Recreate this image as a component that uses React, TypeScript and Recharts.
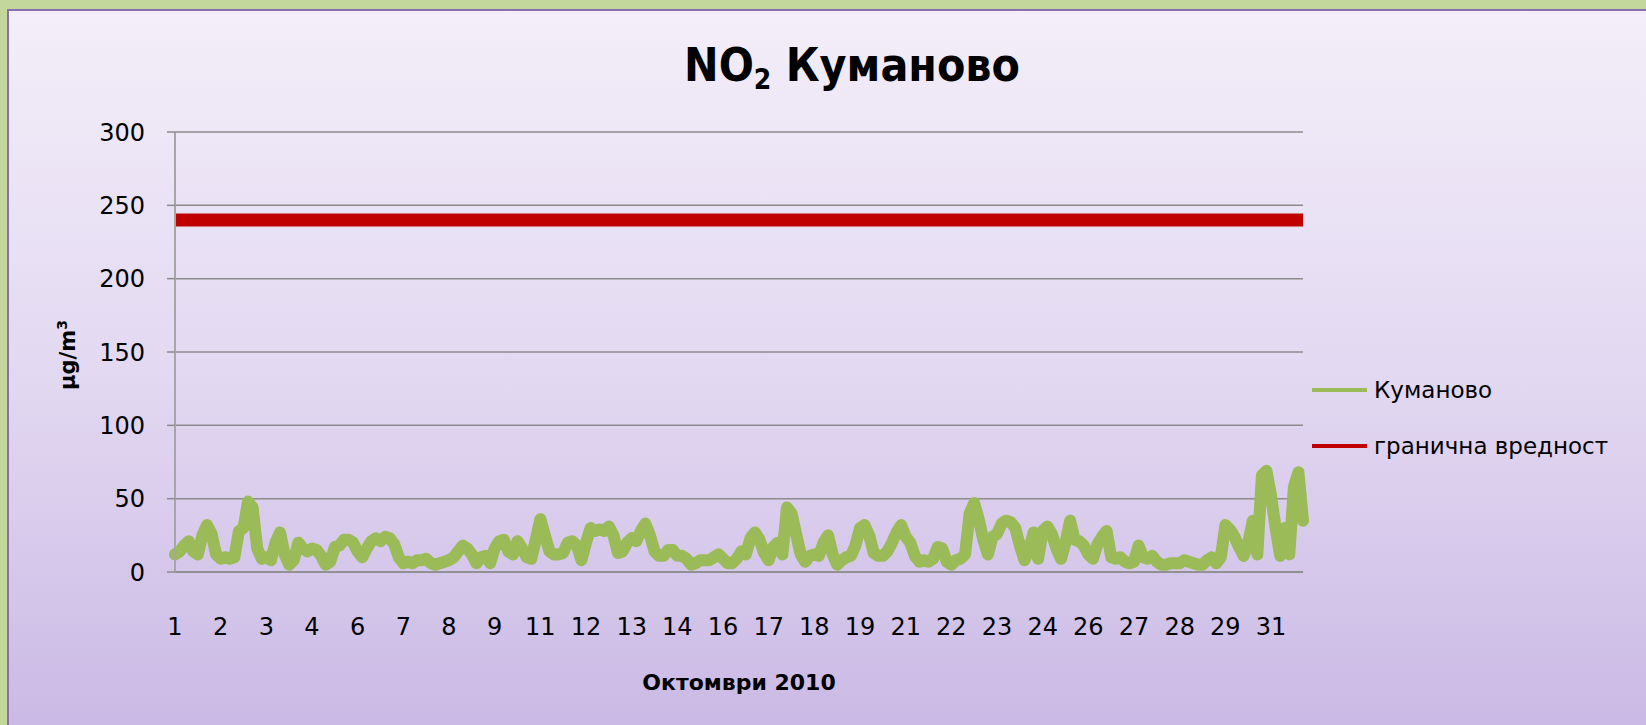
import React from 'react';
import { LineChart, Line, XAxis, YAxis, CartesianGrid, ReferenceLine, Legend } from 'recharts';

// NO2, Kumanovo, October 2010, every 3 hours
const kumanovo = [
  12, 14, 18, 21, 14, 12, 25, 32, 26, 12,
  9, 10, 9, 10, 28, 30, 48, 44, 16, 9,
  10, 8, 20, 27, 12, 5, 8, 20, 16, 14,
  16, 15, 11, 5, 7, 17, 18, 22, 22, 20,
  14, 10, 16, 21, 23, 21, 24, 23, 19, 10,
  6, 7, 6, 8, 8, 9, 6, 5, 6, 7,
  8, 10, 14, 18, 16, 12, 6, 10, 11, 6,
  16, 21, 22, 14, 12, 21, 16, 10, 9, 22,
  36, 25, 14, 12, 12, 13, 20, 21, 18, 8,
  20, 30, 28, 29, 28, 31, 25, 13, 14, 20,
  23, 21, 28, 33, 25, 14, 11, 11, 15, 15,
  11, 11, 9, 5, 6, 8, 8, 8, 10, 12,
  9, 6, 6, 9, 14, 12, 23, 27, 22, 13,
  8, 17, 20, 12, 44, 40, 26, 12, 7, 11,
  12, 11, 20, 25, 12, 5, 8, 10, 11, 18,
  30, 32, 25, 13, 11, 11, 14, 20, 27, 32,
  24, 20, 11, 7, 8, 7, 9, 17, 16, 7,
  5, 8, 9, 12, 40, 47, 36, 22, 12, 24,
  26, 33, 35, 34, 30, 18, 8, 15, 27, 9,
  28, 31, 26, 16, 9, 20, 35, 22, 21, 18,
  12, 9, 19, 24, 28, 10, 9, 10, 7, 6,
  7, 18, 10, 9, 11, 7, 5, 5, 6, 6,
  6, 8, 7, 6, 5, 5, 8, 10, 6, 10,
  32, 29, 24, 17, 11, 20, 35, 12, 66, 69,
  52, 30, 11, 30, 12, 58, 68, 35,
];

const LIMIT = 240;

const dayLabels = [
  '1', '2', '3', '4', '6', '7', '8', '9', '11', '12', '13', '14', '16',
  '17', '18', '19', '21', '22', '23', '24', '26', '27', '28', '29', '31',
];
const yTicks = [0, 50, 100, 150, 200, 250, 300];

const GREEN = '#9bbb59';
const RED = '#c00000';
const FONT = '"DejaVu Sans", sans-serif';

const data = kumanovo.map((v, i) => ({ i, v }));
const xTicks = dayLabels.map((_, k) => k * 10);

const legendItems = [
  { name: 'Куманово', color: GREEN },
  { name: 'гранична вредност', color: RED },
];

const renderLegend = () => (
  <div style={{ fontFamily: FONT, fontSize: 23, color: '#000' }}>
    {legendItems.map((it) => (
      <div key={it.name} style={{ display: 'flex', alignItems: 'center', height: 56 }}>
        <div style={{ width: 55, height: 4, background: it.color, marginRight: 7 }} />
        <span>{it.name}</span>
      </div>
    ))}
  </div>
);

export default function App() {
  return (
    <div style={{ position: 'absolute', left: 0, top: 0, width: 1646, height: 725, background: '#c3d69b', overflow: 'hidden' }}>
      <div
        style={{
          position: 'absolute', left: 7, top: 9, width: 1660, height: 740,
          border: '2px solid #8a6fb0',
          background: 'linear-gradient(to bottom, #f3eef9 0%, #e2d8f1 50%, #c9b7e4 100%)',
        }}
      />
      <div style={{ position: 'absolute', left: 0, top: 0 }}>
        <LineChart width={1646} height={725} data={data} margin={{ top: 132, right: 343, bottom: 93, left: 115 }}>
          <CartesianGrid vertical={false} stroke="#8c8c8c" strokeWidth={1.5} />
          <XAxis
            dataKey="i"
            type="number"
            domain={[0, kumanovo.length - 1]}
            ticks={xTicks}
            tickFormatter={(v: number) => dayLabels[v / 10]}
            interval={0}
            height={60}
            tickLine={false}
            tickSize={0}
            tickMargin={46}
            axisLine={{ stroke: '#8c8c8c', strokeWidth: 1.5 }}
            tick={{ fill: '#000', fontSize: 24, fontFamily: FONT }}
          />
          <YAxis
            domain={[0, 300]}
            ticks={yTicks}
            width={60}
            tickSize={8}
            tickMargin={22}
            axisLine={{ stroke: '#a6a6a6', strokeWidth: 2 }}
            tickLine={{ stroke: '#8c8c8c', strokeWidth: 1.5 }}
            tick={{ fill: '#000', fontSize: 24, fontFamily: FONT }}
          />
          <ReferenceLine y={LIMIT} stroke={RED} strokeWidth={13} />
          <Line
            type="linear"
            dataKey="v"
            stroke={GREEN}
            strokeWidth={12}
            strokeLinejoin="round"
            strokeLinecap="round"
            dot={false}
            activeDot={false}
            isAnimationActive={false}
          />
          <Legend
            layout="vertical"
            align="center"
            verticalAlign="middle"
            content={renderLegend}
            wrapperStyle={{ left: 1312, top: 362, width: 320 }}
          />
        </LineChart>
      </div>
      <div
        style={{
          position: 'absolute', left: 0, width: 1646, top: 38, textAlign: 'center',
          paddingLeft: 58, boxSizing: 'border-box',
          fontFamily: '"DejaVu Sans Condensed", "DejaVu Sans", sans-serif', fontWeight: 'bold', fontSize: 46, color: '#000',
        }}
      >
        NO<sub style={{ fontSize: 28, verticalAlign: -8 }}>2</sub> Куманово
      </div>
      <div
        style={{
          position: 'absolute', left: 175, width: 1128, top: 670, textAlign: 'center',
          fontFamily: FONT, fontWeight: 'bold', fontSize: 22, color: '#000',
        }}
      >
        Октомври 2010
      </div>
      <div
        style={{
          position: 'absolute', left: 67, top: 355, transform: 'translate(-50%, -50%) rotate(-90deg)',
          fontFamily: FONT, fontWeight: 'bold', fontSize: 21, color: '#000', whiteSpace: 'nowrap',
        }}
      >
        μg/m<sup style={{ fontSize: 14 }}>3</sup>
      </div>
    </div>
  );
}
